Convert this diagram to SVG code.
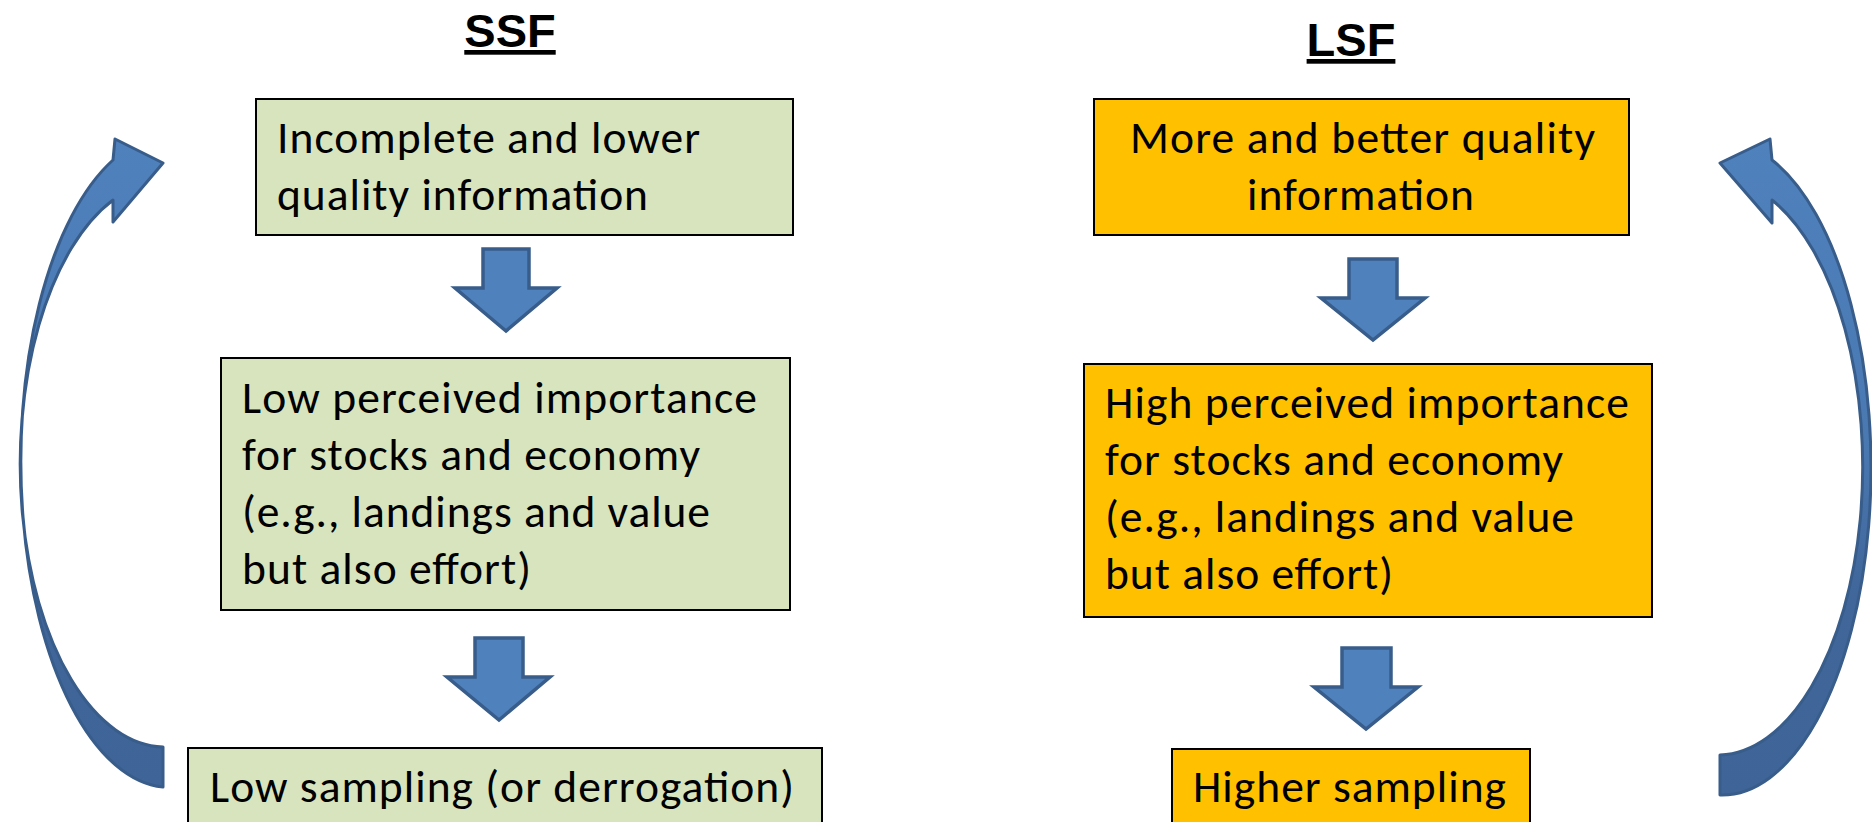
<svg xmlns="http://www.w3.org/2000/svg" width="1872" height="822" viewBox="0 0 1872 822">
<style>
.title{font-family:"Liberation Sans",Arial,sans-serif;font-weight:bold;font-size:47px;fill:#000;text-decoration:underline;text-anchor:middle}
.t{font-family:Carlito,Calibri,Lato,"Open Sans",sans-serif;font-size:45.5px;fill:#000}
.green{fill:#D7E4BD;stroke:#000;stroke-width:2}
.orange{fill:#FFC000;stroke:#000;stroke-width:2}
.down{fill:#4F81BD;stroke:#385D8A;stroke-width:3.5;stroke-linejoin:miter}
.curve{stroke:#385D8A;stroke-width:3;stroke-linejoin:round}
</style>
<defs>
<linearGradient id="cg" x1="0" y1="0" x2="0" y2="1">
<stop offset="0" stop-color="#4F81BD"/>
<stop offset="0.45" stop-color="#4A79B2"/>
<stop offset="0.7" stop-color="#40669A"/>
<stop offset="1" stop-color="#3F6498"/>
</linearGradient>
</defs>
<rect width="1872" height="822" fill="#fff"/>
<text class="title" x="510" y="47">SSF</text>
<text class="title" x="1351" y="56">LSF</text>
<g id="connectors">
<path id="loop-left" class="curve" fill="url(#cg)" d="M163,787 A149,326 0 0 1 113,160 L115,139 L163,163 L113,222 L113,200 A145,283 0 0 0 163,747 Z"/>
<path id="loop-right" class="curve" fill="url(#cg)" d="M1720,795 A149,327 0 0 0 1772,160 L1770,139 L1720,163 L1772,223 L1772,200 A145,288 0 0 1 1720,755 Z"/>
<polygon id="d1" class="down" points="483,249 529,249 529,288 557,288 506,331 455,288 483,288"/>
<polygon id="d2" class="down" points="475,638 523,638 523,677 550,677 499,720 447,677 475,677"/>
<polygon id="d3" class="down" points="1349,259 1397,259 1397,298 1425,298 1373,340 1321,298 1349,298"/>
<polygon id="d4" class="down" points="1342,648 1391,648 1391,687 1418,687 1366,729 1314,687 1342,687"/>
</g>
<g id="ssf1">
<rect class="green" x="256" y="99" width="537" height="136"/>
<text class="t" x="277" y="153" textLength="423">Incomplete and lower</text>
<text class="t" x="277" y="210" textLength="371">quality information</text>
</g>
<g id="ssf2">
<rect class="green" x="221" y="358" width="569" height="252"/>
<text class="t" x="242" y="413" textLength="515">Low perceived importance</text>
<text class="t" x="242" y="470" textLength="458">for stocks and economy</text>
<text class="t" x="242" y="527" textLength="468">(e.g., landings and value</text>
<text class="t" x="242" y="584" textLength="289">but also effort)</text>
</g>
<g id="ssf3">
<rect class="green" x="188" y="748" width="634" height="90"/>
<text class="t" x="210" y="802" textLength="584">Low sampling (or derrogation)</text>
</g>
<g id="lsf1">
<rect class="orange" x="1094" y="99" width="535" height="136"/>
<text class="t" x="1130" y="153" textLength="465">More and better quality</text>
<text class="t" x="1247" y="210" textLength="227">information</text>
</g>
<g id="lsf2">
<rect class="orange" x="1084" y="364" width="568" height="253"/>
<text class="t" x="1105" y="418" textLength="524">High perceived importance</text>
<text class="t" x="1105" y="475" textLength="458">for stocks and economy</text>
<text class="t" x="1105" y="532" textLength="469">(e.g., landings and value</text>
<text class="t" x="1105" y="589" textLength="288">but also effort)</text>
</g>
<g id="lsf3">
<rect class="orange" x="1172" y="749" width="358" height="90"/>
<text class="t" x="1193" y="802" textLength="313">Higher sampling</text>
</g>
</svg>
